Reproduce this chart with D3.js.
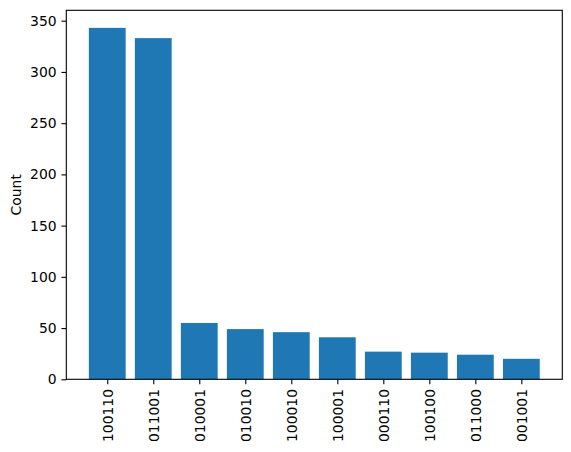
<!DOCTYPE html>
<html>
<head>
<meta charset="utf-8">
<script src="https://cdn.jsdelivr.net/npm/d3@7"></script>
<style>
  body { margin: 0; background: #fff; }
  text { font-family: "DejaVu Sans", sans-serif; }
</style>
</head>
<body>
<div id="chart-area"></div>
<script>
// DATA
const categories = ["100110", "011001", "010001", "010010", "100010",
                    "100001", "000110", "100100", "011000", "001001"]
const counts = [343, 333, 55, 49, 46, 41, 27, 26, 24, 20]
const yTicks = [0, 50, 100, 150, 200, 250, 300, 350]

// SIZES
const AREA_WIDTH = 571
const AREA_HEIGHT = 452
const MARGIN = { LEFT: 66.3, TOP: 10.3 }
const WIDTH = 496
const HEIGHT = 369
const TICK = 4.86   // 3.5pt at 100dpi

const svg = d3.select("#chart-area").append("svg")
  .attr("width", AREA_WIDTH)
  .attr("height", AREA_HEIGHT)

const g = svg.append("g")
  .attr("transform", `translate(${MARGIN.LEFT},${MARGIN.TOP})`)

// matplotlib style: bars of width 0.8 at integer positions, 5% margins
const n = categories.length
const pad = 0.05 * (n - 1 + 0.8)
const x = d3.scaleLinear()
  .domain([-0.4 - pad, n - 1 + 0.4 + pad])
  .range([0, WIDTH])

const y = d3.scaleLinear()
  .domain([0, d3.max(counts) * 1.05])
  .range([HEIGHT, 0])

// bars
g.selectAll("rect.bar")
  .data(counts)
  .enter().append("rect")
  .attr("class", "bar")
  .attr("x", (d, i) => x(i - 0.4))
  .attr("width", (d, i) => x(i + 0.4) - x(i - 0.4))
  .attr("y", d => y(d))
  .attr("height", d => y(0) - y(d))
  .attr("fill", "#1f77b4")

// axes
const xAxisCall = d3.axisBottom(x)
  .tickValues(d3.range(n))
  .tickFormat(i => categories[i])
  .tickSizeInner(TICK)
  .tickSizeOuter(0)
  .tickPadding(TICK)

const xAxis = g.append("g")
  .attr("class", "x axis")
  .attr("transform", `translate(0,${HEIGHT})`)
  .call(xAxisCall)

xAxis.selectAll("text")
  .attr("transform", "rotate(-90)")
  .attr("x", -2 * TICK)
  .attr("y", 0)
  .attr("dy", "0.35em")
  .attr("text-anchor", "end")

const yAxisCall = d3.axisLeft(y)
  .tickValues(yTicks)
  .tickSizeInner(TICK)
  .tickSizeOuter(0)
  .tickPadding(TICK)

const yAxis = g.append("g")
  .attr("class", "y axis")
  .call(yAxisCall)

g.selectAll(".axis path.domain").remove()
g.selectAll(".axis line").attr("stroke", "#000").attr("stroke-width", 1.1)
g.selectAll(".axis text")
  .attr("font-family", "DejaVu Sans, sans-serif")
  .attr("font-size", "13.9px")
  .attr("fill", "#000")

// spines
g.append("rect")
  .attr("x", 0)
  .attr("y", 0)
  .attr("width", WIDTH)
  .attr("height", HEIGHT)
  .attr("fill", "none")
  .attr("stroke", "#000")
  .attr("stroke-width", 1.1)

// y label
g.append("text")
  .attr("transform", "rotate(-90)")
  .attr("x", -HEIGHT / 2)
  .attr("y", -45.6)
  .attr("text-anchor", "middle")
  .attr("font-size", "13.9px")
  .attr("fill", "#000")
  .text("Count")
</script>
</body>
</html>
